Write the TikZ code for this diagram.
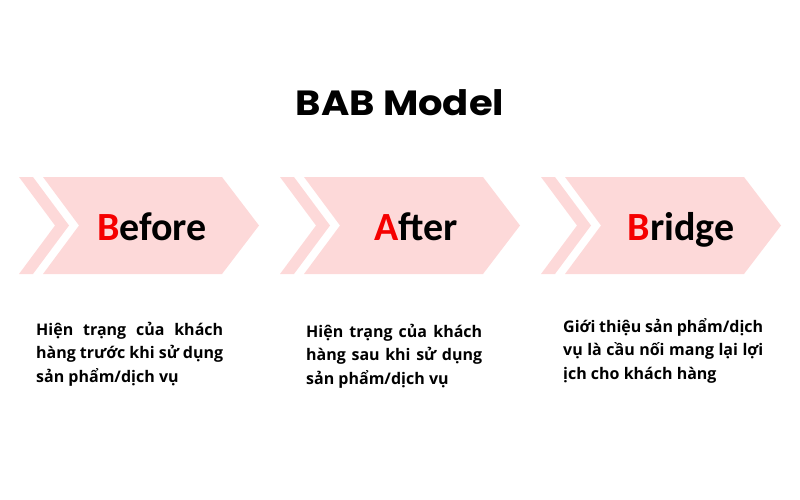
\documentclass[tikz,border=0pt]{standalone}
\usepackage{fontspec}
\setmainfont{Open Sans}
\newfontfamily\titlefont{Poppins}
\newfontfamily\labelfont{Carlito}
\definecolor{pinkfill}{RGB}{253,217,217}
\definecolor{letterred}{RGB}{245,0,0}
\tikzset{
  chevfill/.style={fill=pinkfill},
  steplabel/.style={anchor=base, inner sep=0pt, font=\labelfont\bfseries\fontsize{40}{40}\selectfont, text=black},
  bodyline/.style={anchor=base west, inner sep=0pt, font=\bfseries\fontsize{16}{16}\selectfont, text=black},
}
\newcommand{\redfirst}[1]{\textcolor{letterred}{#1}}
\begin{document}
\begin{tikzpicture}[x=1pt,y=-1pt]
\useasboundingbox (0,0) rectangle (800,500);
\foreach \dx in {0,261,522}{
  \begin{scope}[shift={(\dx,0)}]
    \fill[chevfill] (19,177) -- (33,177) -- (69,225.5) -- (33,274) -- (19,274) -- (55,225.5) -- cycle;
    \fill[chevfill] (43,177) -- (222,177) -- (259,225.5) -- (222,274) -- (43,274) -- (79,225.5) -- cycle;
  \end{scope}
}
\node[anchor=base, inner sep=0pt, xscale=1.1, font=\titlefont\bfseries\fontsize{35}{35}\selectfont] (title) at (400,116) {BAB Model};
\node[steplabel] (before) at (152,240) {\redfirst{B}efore};
\node[steplabel] (after) at (416,240) {\redfirst{A}fter};
\node[steplabel] (bridge) at (681,240) {\redfirst{B}ridge};
% paragraph 1
\node[bodyline] (p1a) at (36,335) {\makebox[187pt][s]{Hiện trạng của khách}};
\node[bodyline] (p1b) at (36,358.5) {\makebox[187pt][s]{hàng trước khi sử dụng}};
\node[bodyline] (p1c) at (36,382) {sản phẩm/dịch vụ};
% paragraph 2
\node[bodyline] (p2a) at (306,337) {\makebox[176pt][s]{Hiện trạng của khách}};
\node[bodyline] (p2b) at (306,360.5) {\makebox[176pt][s]{hàng sau khi sử dụng}};
\node[bodyline] (p2c) at (306,384) {sản phẩm/dịch vụ};
% paragraph 3
\node[bodyline] (p3a) at (563,332) {\makebox[200pt][s]{Giới thiệu sản phẩm/dịch}};
\node[bodyline] (p3b) at (563,355.5) {\makebox[200pt][s]{vụ là cầu nối mang lại lợi}};
\node[bodyline] (p3c) at (563,379) {ịch cho khách hàng};
\end{tikzpicture}
\end{document}
